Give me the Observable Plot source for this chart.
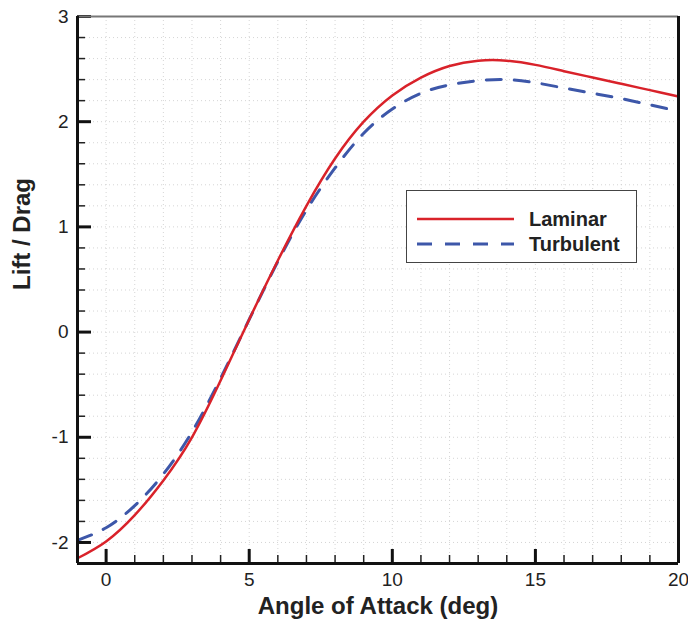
<!DOCTYPE html>
<html>
<head>
<meta charset="utf-8">
<script src="https://cdn.jsdelivr.net/npm/d3@7"></script>
<script src="https://cdn.jsdelivr.net/npm/@observablehq/plot@0.6"></script>
<style>
  html, body { margin: 0; padding: 0; background: #fff; }
  #wrap { position: relative; width: 688px; height: 629px; font-family: "Liberation Sans", Arial, Helvetica, sans-serif; }
  #legend { position: absolute; left: 406px; top: 190px; width: 229px; height: 71px; border: 1.5px solid #444; background: #fff; }
</style>
</head>
<body>
<div id="wrap"></div>
<script>
// ---- data ----
const angle = [-1, 0, 1, 2, 3, 4, 5, 6, 7, 8, 9, 10, 11, 12, 13, 14, 15, 16, 17, 18, 19, 20];
const laminar = [-2.15, -1.99, -1.74, -1.41, -1.00, -0.46, 0.12, 0.68, 1.20, 1.65, 2.00, 2.25, 2.42, 2.53, 2.58, 2.58, 2.54, 2.48, 2.42, 2.36, 2.30, 2.24];
const turbulent = [-1.98, -1.86, -1.65, -1.35, -0.95, -0.44, 0.12, 0.67, 1.16, 1.56, 1.89, 2.12, 2.27, 2.35, 2.39, 2.40, 2.37, 2.32, 2.27, 2.22, 2.16, 2.10];
const seriesNames = ["Laminar", "Turbulent"];
const seriesColors = ["#d9222a", "#3d57a9"];
const xMajorTicks = [0, 5, 10, 15, 20];
const yMajorTicks = [-2, -1, 0, 1, 2, 3];
const xLabel = "Angle of Attack (deg)";
const yLabel = "Lift / Drag";

const xMinorTicks = d3.range(0, 21, 1);
const yMinorTicks = d3.range(-11, 16, 1).map(d => +(d * 0.2).toFixed(1));

const lamData = angle.map((a, i) => ({angle: a, value: laminar[i]}));
const turbData = angle.map((a, i) => ({angle: a, value: turbulent[i]}));

const W = 688, H = 629, mL = 77, mR = 10, mT = 16, mB = 66;
const innerW = W - mL - mR, innerH = H - mT - mB;
const font = "'Liberation Sans', Arial, Helvetica, sans-serif";

const chart = Plot.plot({
  width: W, height: H,
  marginLeft: mL, marginRight: mR, marginTop: mT, marginBottom: mB,
  x: {domain: [-1, 20]},
  y: {domain: [-2.2, 3]},
  style: {fontFamily: font, fontSize: "19px", color: "#222", background: "#fff", overflow: "visible"},
  marks: [
    Plot.ruleX(xMinorTicks, {x: d => d, stroke: "#d0d0d0", strokeWidth: 0.9, strokeDasharray: "1,3"}),
    Plot.ruleY(yMinorTicks, {y: d => d, stroke: "#d0d0d0", strokeWidth: 0.9, strokeDasharray: "1,3"}),
    Plot.line(turbData, {x: "angle", y: "value", curve: "natural", stroke: seriesColors[1], strokeWidth: 3, strokeDasharray: "15,13"}),
    Plot.line(lamData, {x: "angle", y: "value", curve: "natural", stroke: seriesColors[0], strokeWidth: 2.5}),
    // inward ticks
    Plot.tickX(xMinorTicks, {x: d => d, insetTop: innerH - 8, stroke: "#222", strokeWidth: 1.5}),
    Plot.tickX(xMajorTicks, {x: d => d, insetTop: innerH - 14, stroke: "#111", strokeWidth: 3}),
    Plot.tickY(yMinorTicks, {y: d => d, insetRight: innerW - 8, stroke: "#222", strokeWidth: 1.5}),
    Plot.tickY(yMajorTicks, {y: d => d, insetRight: innerW - 14, stroke: "#111", strokeWidth: 3}),
    // frame
    Plot.ruleY([3], {stroke: "#777", strokeWidth: 2}),
    Plot.ruleX([20], {stroke: "#111", strokeWidth: 3}),
    Plot.ruleX([-1], {stroke: "#111", strokeWidth: 3}),
    Plot.ruleY([-2.2], {stroke: "#111", strokeWidth: 3}),
    Plot.axisX(xMajorTicks, {tickSize: 0, tickPadding: 9, fontSize: 19, label: null, tickFormat: d => String(d)}),
    Plot.axisY(yMajorTicks, {tickSize: 0, tickPadding: 9, fontSize: 19, label: null, tickFormat: d => String(d)}),
    Plot.text([xLabel], {text: d => d, frameAnchor: "bottom", dy: 50, fontSize: 24, fontWeight: "bold", fill: "#222"}),
    Plot.text([yLabel], {text: d => d, frameAnchor: "left", dx: -55, rotate: -90, fontSize: 24, fontWeight: "bold", fill: "#222"})
  ]
});

const wrap = document.getElementById("wrap");
wrap.appendChild(chart);

// legend
const legend = document.createElement("div");
legend.id = "legend";
const ns = "http://www.w3.org/2000/svg";
const lsvg = document.createElementNS(ns, "svg");
lsvg.setAttribute("width", 229);
lsvg.setAttribute("height", 71);
seriesNames.forEach((name, i) => {
  const yLine = 28 + i * 25;
  const line = document.createElementNS(ns, "line");
  line.setAttribute("x1", 10); line.setAttribute("x2", 107);
  line.setAttribute("y1", yLine); line.setAttribute("y2", yLine);
  line.setAttribute("stroke", seriesColors[i]);
  line.setAttribute("stroke-width", i === 0 ? 2.5 : 3);
  if (i === 1) line.setAttribute("stroke-dasharray", "15,13");
  lsvg.appendChild(line);
  const t = document.createElementNS(ns, "text");
  t.setAttribute("x", 122); t.setAttribute("y", yLine + 7);
  t.setAttribute("font-family", font);
  t.setAttribute("font-size", 20);
  t.setAttribute("font-weight", "bold");
  t.setAttribute("fill", "#222");
  t.textContent = name;
  lsvg.appendChild(t);
});
legend.appendChild(lsvg);
wrap.appendChild(legend);
</script>
</body>
</html>
